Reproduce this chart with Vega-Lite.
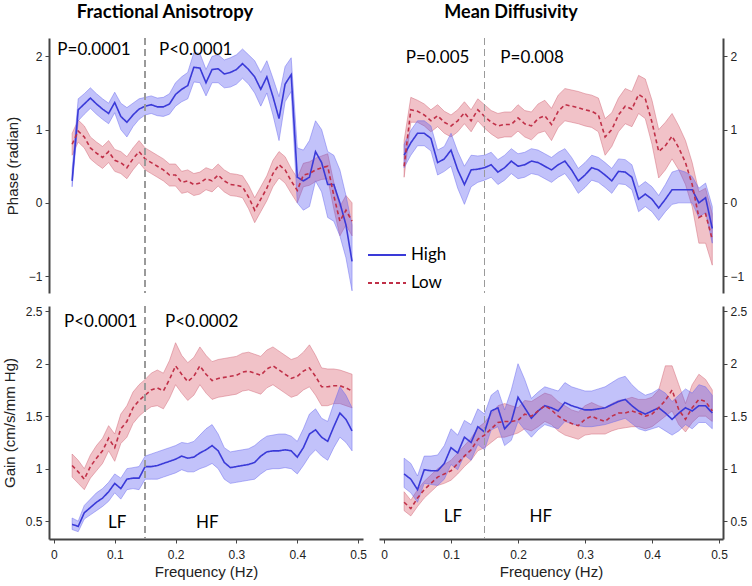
{
"$schema":"https://vega.github.io/schema/vega-lite/v6.json",
"background":"white",
"padding":{"left":2,"top":3,"right":5,"bottom":5},
"datasets":{
"faP":[
{"f":0.03,"g":"High","m":0.3,"lo":0.22,"hi":0.45},{"f":0.04,"g":"High","m":1.27,"lo":1.12,"hi":1.42},{"f":0.05,"g":"High","m":1.35,"lo":1.21,"hi":1.49},{"f":0.06,"g":"High","m":1.43,"lo":1.29,"hi":1.57},{"f":0.07,"g":"High","m":1.35,"lo":1.21,"hi":1.49},{"f":0.08,"g":"High","m":1.28,"lo":1.14,"hi":1.42},{"f":0.09,"g":"High","m":1.22,"lo":1.08,"hi":1.36},{"f":0.10,"g":"High","m":1.37,"lo":1.23,"hi":1.51},{"f":0.11,"g":"High","m":1.18,"lo":1.0,"hi":1.36},{"f":0.12,"g":"High","m":1.1,"lo":0.9,"hi":1.3},{"f":0.13,"g":"High","m":1.2,"lo":1.04,"hi":1.36},{"f":0.14,"g":"High","m":1.28,"lo":1.14,"hi":1.42},{"f":0.15,"g":"High","m":1.32,"lo":1.2,"hi":1.44},{"f":0.16,"g":"High","m":1.34,"lo":1.22,"hi":1.46},{"f":0.17,"g":"High","m":1.31,"lo":1.19,"hi":1.43},{"f":0.18,"g":"High","m":1.31,"lo":1.18,"hi":1.44},{"f":0.19,"g":"High","m":1.35,"lo":1.21,"hi":1.49},{"f":0.20,"g":"High","m":1.48,"lo":1.32,"hi":1.64},{"f":0.21,"g":"High","m":1.55,"lo":1.38,"hi":1.72},{"f":0.22,"g":"High","m":1.6,"lo":1.42,"hi":1.78},{"f":0.23,"g":"High","m":1.85,"lo":1.65,"hi":2.05},{"f":0.24,"g":"High","m":1.84,"lo":1.64,"hi":2.04},{"f":0.25,"g":"High","m":1.64,"lo":1.46,"hi":1.82},{"f":0.26,"g":"High","m":1.82,"lo":1.64,"hi":2.0},{"f":0.27,"g":"High","m":1.83,"lo":1.64,"hi":2.02},{"f":0.28,"g":"High","m":1.76,"lo":1.57,"hi":1.95},{"f":0.29,"g":"High","m":1.78,"lo":1.58,"hi":1.98},{"f":0.30,"g":"High","m":1.82,"lo":1.62,"hi":2.02},{"f":0.31,"g":"High","m":1.9,"lo":1.7,"hi":2.1},{"f":0.32,"g":"High","m":1.82,"lo":1.62,"hi":2.02},{"f":0.33,"g":"High","m":1.72,"lo":1.5,"hi":1.94},{"f":0.34,"g":"High","m":1.55,"lo":1.32,"hi":1.78},{"f":0.35,"g":"High","m":1.72,"lo":1.5,"hi":1.94},{"f":0.36,"g":"High","m":1.45,"lo":1.2,"hi":1.7},{"f":0.37,"g":"High","m":1.15,"lo":0.85,"hi":1.45},{"f":0.38,"g":"High","m":1.62,"lo":1.38,"hi":1.86},{"f":0.39,"g":"High","m":1.75,"lo":1.52,"hi":1.98},{"f":0.40,"g":"High","m":0.35,"lo":0.0,"hi":0.75},{"f":0.41,"g":"High","m":0.3,"lo":-0.1,"hi":0.72},{"f":0.42,"g":"High","m":0.35,"lo":-0.05,"hi":0.85},{"f":0.43,"g":"High","m":0.7,"lo":0.3,"hi":1.12},{"f":0.44,"g":"High","m":0.55,"lo":0.15,"hi":1.0},{"f":0.45,"g":"High","m":0.25,"lo":-0.2,"hi":0.7},{"f":0.46,"g":"High","m":0.25,"lo":-0.25,"hi":0.65},{"f":0.47,"g":"High","m":0.0,"lo":-0.45,"hi":0.45},{"f":0.48,"g":"High","m":-0.3,"lo":-0.75,"hi":0.1},{"f":0.49,"g":"High","m":-0.8,"lo":-1.2,"hi":-0.3},
{"f":0.03,"g":"Low","m":0.8,"lo":0.65,"hi":0.95},{"f":0.04,"g":"Low","m":0.98,"lo":0.83,"hi":1.13},{"f":0.05,"g":"Low","m":0.9,"lo":0.75,"hi":1.05},{"f":0.06,"g":"Low","m":0.75,"lo":0.6,"hi":0.9},{"f":0.07,"g":"Low","m":0.68,"lo":0.53,"hi":0.83},{"f":0.08,"g":"Low","m":0.62,"lo":0.47,"hi":0.77},{"f":0.09,"g":"Low","m":0.7,"lo":0.55,"hi":0.85},{"f":0.10,"g":"Low","m":0.58,"lo":0.43,"hi":0.73},{"f":0.11,"g":"Low","m":0.55,"lo":0.4,"hi":0.7},{"f":0.12,"g":"Low","m":0.48,"lo":0.33,"hi":0.63},{"f":0.13,"g":"Low","m":0.6,"lo":0.45,"hi":0.75},{"f":0.14,"g":"Low","m":0.7,"lo":0.55,"hi":0.85},{"f":0.15,"g":"Low","m":0.6,"lo":0.45,"hi":0.75},{"f":0.16,"g":"Low","m":0.55,"lo":0.4,"hi":0.7},{"f":0.17,"g":"Low","m":0.5,"lo":0.35,"hi":0.65},{"f":0.18,"g":"Low","m":0.45,"lo":0.3,"hi":0.6},{"f":0.19,"g":"Low","m":0.38,"lo":0.23,"hi":0.53},{"f":0.20,"g":"Low","m":0.38,"lo":0.23,"hi":0.53},{"f":0.21,"g":"Low","m":0.28,"lo":0.13,"hi":0.43},{"f":0.22,"g":"Low","m":0.3,"lo":0.15,"hi":0.45},{"f":0.23,"g":"Low","m":0.25,"lo":0.1,"hi":0.4},{"f":0.24,"g":"Low","m":0.27,"lo":0.12,"hi":0.42},{"f":0.25,"g":"Low","m":0.33,"lo":0.18,"hi":0.48},{"f":0.26,"g":"Low","m":0.3,"lo":0.15,"hi":0.45},{"f":0.27,"g":"Low","m":0.38,"lo":0.23,"hi":0.53},{"f":0.28,"g":"Low","m":0.3,"lo":0.15,"hi":0.45},{"f":0.29,"g":"Low","m":0.25,"lo":0.1,"hi":0.4},{"f":0.30,"g":"Low","m":0.24,"lo":0.09,"hi":0.39},{"f":0.31,"g":"Low","m":0.22,"lo":0.07,"hi":0.37},{"f":0.32,"g":"Low","m":0.08,"lo":-0.08,"hi":0.24},{"f":0.33,"g":"Low","m":-0.1,"lo":-0.27,"hi":0.07},{"f":0.34,"g":"Low","m":0.05,"lo":-0.12,"hi":0.22},{"f":0.35,"g":"Low","m":0.2,"lo":0.03,"hi":0.37},{"f":0.36,"g":"Low","m":0.4,"lo":0.22,"hi":0.58},{"f":0.37,"g":"Low","m":0.52,"lo":0.34,"hi":0.7},{"f":0.38,"g":"Low","m":0.45,"lo":0.27,"hi":0.63},{"f":0.39,"g":"Low","m":0.3,"lo":0.13,"hi":0.47},{"f":0.40,"g":"Low","m":0.17,"lo":0.0,"hi":0.34},{"f":0.41,"g":"Low","m":0.38,"lo":0.22,"hi":0.54},{"f":0.42,"g":"Low","m":0.4,"lo":0.24,"hi":0.56},{"f":0.43,"g":"Low","m":0.45,"lo":0.29,"hi":0.61},{"f":0.44,"g":"Low","m":0.48,"lo":0.32,"hi":0.64},{"f":0.45,"g":"Low","m":0.5,"lo":0.33,"hi":0.67},{"f":0.46,"g":"Low","m":0.1,"lo":-0.08,"hi":0.28},{"f":0.47,"g":"Low","m":-0.25,"lo":-0.45,"hi":-0.05},{"f":0.48,"g":"Low","m":-0.1,"lo":-0.3,"hi":0.1},{"f":0.49,"g":"Low","m":-0.25,"lo":-0.45,"hi":0.0}
],
"mdP":[
{"f":0.03,"g":"High","m":0.65,"lo":0.48,"hi":0.8},{"f":0.04,"g":"High","m":0.82,"lo":0.65,"hi":0.99},{"f":0.05,"g":"High","m":0.95,"lo":0.78,"hi":1.12},{"f":0.06,"g":"High","m":0.95,"lo":0.78,"hi":1.12},{"f":0.07,"g":"High","m":0.88,"lo":0.71,"hi":1.05},{"f":0.08,"g":"High","m":0.55,"lo":0.38,"hi":0.72},{"f":0.09,"g":"High","m":0.6,"lo":0.43,"hi":0.77},{"f":0.10,"g":"High","m":0.72,"lo":0.5,"hi":0.95},{"f":0.11,"g":"High","m":0.45,"lo":0.2,"hi":0.7},{"f":0.12,"g":"High","m":0.25,"lo":-0.02,"hi":0.5},{"f":0.13,"g":"High","m":0.45,"lo":0.22,"hi":0.65},{"f":0.14,"g":"High","m":0.46,"lo":0.28,"hi":0.64},{"f":0.15,"g":"High","m":0.48,"lo":0.31,"hi":0.65},{"f":0.16,"g":"High","m":0.52,"lo":0.35,"hi":0.69},{"f":0.17,"g":"High","m":0.42,"lo":0.25,"hi":0.59},{"f":0.18,"g":"High","m":0.48,"lo":0.31,"hi":0.65},{"f":0.19,"g":"High","m":0.57,"lo":0.4,"hi":0.74},{"f":0.20,"g":"High","m":0.5,"lo":0.33,"hi":0.67},{"f":0.21,"g":"High","m":0.52,"lo":0.35,"hi":0.69},{"f":0.22,"g":"High","m":0.57,"lo":0.4,"hi":0.74},{"f":0.23,"g":"High","m":0.55,"lo":0.38,"hi":0.72},{"f":0.24,"g":"High","m":0.5,"lo":0.33,"hi":0.67},{"f":0.25,"g":"High","m":0.45,"lo":0.28,"hi":0.62},{"f":0.26,"g":"High","m":0.52,"lo":0.35,"hi":0.69},{"f":0.27,"g":"High","m":0.57,"lo":0.4,"hi":0.74},{"f":0.28,"g":"High","m":0.45,"lo":0.28,"hi":0.62},{"f":0.29,"g":"High","m":0.3,"lo":0.13,"hi":0.47},{"f":0.30,"g":"High","m":0.38,"lo":0.21,"hi":0.55},{"f":0.31,"g":"High","m":0.48,"lo":0.31,"hi":0.65},{"f":0.32,"g":"High","m":0.45,"lo":0.28,"hi":0.62},{"f":0.33,"g":"High","m":0.38,"lo":0.21,"hi":0.55},{"f":0.34,"g":"High","m":0.3,"lo":0.13,"hi":0.47},{"f":0.35,"g":"High","m":0.43,"lo":0.26,"hi":0.6},{"f":0.36,"g":"High","m":0.42,"lo":0.25,"hi":0.59},{"f":0.37,"g":"High","m":0.35,"lo":0.18,"hi":0.52},{"f":0.38,"g":"High","m":0.05,"lo":-0.12,"hi":0.22},{"f":0.39,"g":"High","m":0.12,"lo":-0.05,"hi":0.29},{"f":0.40,"g":"High","m":0.05,"lo":-0.12,"hi":0.22},{"f":0.41,"g":"High","m":-0.07,"lo":-0.24,"hi":0.1},{"f":0.42,"g":"High","m":0.05,"lo":-0.12,"hi":0.25},{"f":0.43,"g":"High","m":0.18,"lo":-0.02,"hi":0.42},{"f":0.44,"g":"High","m":0.18,"lo":0.0,"hi":0.45},{"f":0.45,"g":"High","m":0.18,"lo":0.0,"hi":0.42},{"f":0.46,"g":"High","m":0.18,"lo":0.0,"hi":0.36},{"f":0.47,"g":"High","m":0.0,"lo":-0.2,"hi":0.2},{"f":0.48,"g":"High","m":0.07,"lo":-0.13,"hi":0.27},{"f":0.49,"g":"High","m":-0.35,"lo":-0.55,"hi":-0.05},
{"f":0.03,"g":"Low","m":0.5,"lo":0.35,"hi":0.85},{"f":0.04,"g":"Low","m":1.27,"lo":1.1,"hi":1.44},{"f":0.05,"g":"Low","m":1.25,"lo":1.1,"hi":1.4},{"f":0.06,"g":"Low","m":1.2,"lo":1.05,"hi":1.35},{"f":0.07,"g":"Low","m":1.12,"lo":0.97,"hi":1.27},{"f":0.08,"g":"Low","m":1.19,"lo":1.04,"hi":1.34},{"f":0.09,"g":"Low","m":1.1,"lo":0.95,"hi":1.25},{"f":0.10,"g":"Low","m":1.05,"lo":0.9,"hi":1.2},{"f":0.11,"g":"Low","m":1.12,"lo":0.97,"hi":1.27},{"f":0.12,"g":"Low","m":1.23,"lo":1.08,"hi":1.38},{"f":0.13,"g":"Low","m":1.12,"lo":0.97,"hi":1.27},{"f":0.14,"g":"Low","m":1.27,"lo":1.12,"hi":1.42},{"f":0.15,"g":"Low","m":1.18,"lo":1.02,"hi":1.34},{"f":0.16,"g":"Low","m":1.1,"lo":0.94,"hi":1.26},{"f":0.17,"g":"Low","m":1.05,"lo":0.88,"hi":1.22},{"f":0.18,"g":"Low","m":1.07,"lo":0.9,"hi":1.24},{"f":0.19,"g":"Low","m":1.07,"lo":0.9,"hi":1.24},{"f":0.20,"g":"Low","m":1.16,"lo":0.98,"hi":1.34},{"f":0.21,"g":"Low","m":1.08,"lo":0.9,"hi":1.26},{"f":0.22,"g":"Low","m":1.05,"lo":0.86,"hi":1.24},{"f":0.23,"g":"Low","m":1.15,"lo":0.95,"hi":1.35},{"f":0.24,"g":"Low","m":1.19,"lo":0.98,"hi":1.4},{"f":0.25,"g":"Low","m":1.07,"lo":0.85,"hi":1.29},{"f":0.26,"g":"Low","m":1.25,"lo":1.03,"hi":1.47},{"f":0.27,"g":"Low","m":1.34,"lo":1.12,"hi":1.56},{"f":0.28,"g":"Low","m":1.32,"lo":1.1,"hi":1.54},{"f":0.29,"g":"Low","m":1.3,"lo":1.08,"hi":1.52},{"f":0.30,"g":"Low","m":1.27,"lo":1.05,"hi":1.49},{"f":0.31,"g":"Low","m":1.25,"lo":1.03,"hi":1.47},{"f":0.32,"g":"Low","m":1.2,"lo":0.97,"hi":1.43},{"f":0.33,"g":"Low","m":0.9,"lo":0.65,"hi":1.15},{"f":0.34,"g":"Low","m":1.0,"lo":0.77,"hi":1.23},{"f":0.35,"g":"Low","m":1.2,"lo":0.97,"hi":1.43},{"f":0.36,"g":"Low","m":1.32,"lo":1.08,"hi":1.56},{"f":0.37,"g":"Low","m":1.28,"lo":1.04,"hi":1.52},{"f":0.38,"g":"Low","m":1.48,"lo":1.22,"hi":1.74},{"f":0.39,"g":"Low","m":1.42,"lo":1.15,"hi":1.69},{"f":0.40,"g":"Low","m":1.1,"lo":0.8,"hi":1.4},{"f":0.41,"g":"Low","m":0.7,"lo":0.34,"hi":1.0},{"f":0.42,"g":"Low","m":0.78,"lo":0.45,"hi":1.1},{"f":0.43,"g":"Low","m":0.91,"lo":0.6,"hi":1.22},{"f":0.44,"g":"Low","m":0.75,"lo":0.45,"hi":1.05},{"f":0.45,"g":"Low","m":0.55,"lo":0.25,"hi":0.85},{"f":0.46,"g":"Low","m":0.25,"lo":-0.05,"hi":0.55},{"f":0.47,"g":"Low","m":-0.2,"lo":-0.55,"hi":0.15},{"f":0.48,"g":"Low","m":-0.15,"lo":-0.55,"hi":0.2},{"f":0.49,"g":"Low","m":-0.5,"lo":-0.85,"hi":-0.15}
],
"faG":[
{"f":0.03,"g":"High","m":0.47,"lo":0.42,"hi":0.53},{"f":0.04,"g":"High","m":0.45,"lo":0.4,"hi":0.5},{"f":0.05,"g":"High","m":0.58,"lo":0.52,"hi":0.65},{"f":0.06,"g":"High","m":0.63,"lo":0.56,"hi":0.71},{"f":0.07,"g":"High","m":0.68,"lo":0.6,"hi":0.77},{"f":0.08,"g":"High","m":0.72,"lo":0.64,"hi":0.81},{"f":0.09,"g":"High","m":0.78,"lo":0.69,"hi":0.87},{"f":0.10,"g":"High","m":0.86,"lo":0.77,"hi":0.95},{"f":0.11,"g":"High","m":0.81,"lo":0.71,"hi":0.91},{"f":0.12,"g":"High","m":0.9,"lo":0.8,"hi":1.0},{"f":0.13,"g":"High","m":0.91,"lo":0.81,"hi":1.01},{"f":0.14,"g":"High","m":0.91,"lo":0.8,"hi":1.02},{"f":0.15,"g":"High","m":1.02,"lo":0.9,"hi":1.12},{"f":0.16,"g":"High","m":1.02,"lo":0.9,"hi":1.14},{"f":0.17,"g":"High","m":1.03,"lo":0.9,"hi":1.16},{"f":0.18,"g":"High","m":1.05,"lo":0.92,"hi":1.18},{"f":0.19,"g":"High","m":1.07,"lo":0.94,"hi":1.2},{"f":0.20,"g":"High","m":1.09,"lo":0.96,"hi":1.22},{"f":0.21,"g":"High","m":1.12,"lo":0.99,"hi":1.25},{"f":0.22,"g":"High","m":1.1,"lo":0.97,"hi":1.24},{"f":0.23,"g":"High","m":1.11,"lo":0.97,"hi":1.26},{"f":0.24,"g":"High","m":1.15,"lo":1.0,"hi":1.32},{"f":0.25,"g":"High","m":1.18,"lo":1.02,"hi":1.38},{"f":0.26,"g":"High","m":1.22,"lo":1.05,"hi":1.42},{"f":0.27,"g":"High","m":1.17,"lo":1.0,"hi":1.33},{"f":0.28,"g":"High","m":1.06,"lo":0.9,"hi":1.2},{"f":0.29,"g":"High","m":1.01,"lo":0.86,"hi":1.16},{"f":0.30,"g":"High","m":1.02,"lo":0.87,"hi":1.17},{"f":0.31,"g":"High","m":1.03,"lo":0.88,"hi":1.18},{"f":0.32,"g":"High","m":1.04,"lo":0.89,"hi":1.19},{"f":0.33,"g":"High","m":1.06,"lo":0.9,"hi":1.22},{"f":0.34,"g":"High","m":1.12,"lo":0.95,"hi":1.27},{"f":0.35,"g":"High","m":1.16,"lo":0.99,"hi":1.31},{"f":0.36,"g":"High","m":1.17,"lo":1.0,"hi":1.32},{"f":0.37,"g":"High","m":1.17,"lo":1.0,"hi":1.33},{"f":0.38,"g":"High","m":1.18,"lo":1.01,"hi":1.33},{"f":0.39,"g":"High","m":1.17,"lo":1.0,"hi":1.31},{"f":0.40,"g":"High","m":1.11,"lo":0.95,"hi":1.26},{"f":0.41,"g":"High","m":1.2,"lo":1.03,"hi":1.38},{"f":0.42,"g":"High","m":1.33,"lo":1.12,"hi":1.52},{"f":0.43,"g":"High","m":1.37,"lo":1.18,"hi":1.57},{"f":0.44,"g":"High","m":1.3,"lo":1.12,"hi":1.48},{"f":0.45,"g":"High","m":1.26,"lo":1.08,"hi":1.45},{"f":0.46,"g":"High","m":1.4,"lo":1.2,"hi":1.62},{"f":0.47,"g":"High","m":1.53,"lo":1.3,"hi":1.78},{"f":0.48,"g":"High","m":1.47,"lo":1.25,"hi":1.7},{"f":0.49,"g":"High","m":1.36,"lo":1.17,"hi":1.58},
{"f":0.03,"g":"Low","m":1.03,"lo":0.92,"hi":1.14},{"f":0.04,"g":"Low","m":0.97,"lo":0.86,"hi":1.08},{"f":0.05,"g":"Low","m":0.9,"lo":0.8,"hi":1.0},{"f":0.06,"g":"Low","m":1.02,"lo":0.91,"hi":1.13},{"f":0.07,"g":"Low","m":1.1,"lo":0.98,"hi":1.22},{"f":0.08,"g":"Low","m":1.17,"lo":1.05,"hi":1.29},{"f":0.09,"g":"Low","m":1.29,"lo":1.17,"hi":1.41},{"f":0.10,"g":"Low","m":1.2,"lo":1.07,"hi":1.33},{"f":0.11,"g":"Low","m":1.38,"lo":1.24,"hi":1.52},{"f":0.12,"g":"Low","m":1.45,"lo":1.3,"hi":1.6},{"f":0.13,"g":"Low","m":1.58,"lo":1.43,"hi":1.73},{"f":0.14,"g":"Low","m":1.65,"lo":1.5,"hi":1.8},{"f":0.15,"g":"Low","m":1.7,"lo":1.55,"hi":1.85},{"f":0.16,"g":"Low","m":1.75,"lo":1.59,"hi":1.91},{"f":0.17,"g":"Low","m":1.77,"lo":1.6,"hi":1.94},{"f":0.18,"g":"Low","m":1.74,"lo":1.57,"hi":1.91},{"f":0.19,"g":"Low","m":1.85,"lo":1.67,"hi":2.03},{"f":0.20,"g":"Low","m":1.98,"lo":1.8,"hi":2.2},{"f":0.21,"g":"Low","m":1.9,"lo":1.72,"hi":2.08},{"f":0.22,"g":"Low","m":1.83,"lo":1.65,"hi":2.01},{"f":0.23,"g":"Low","m":1.88,"lo":1.7,"hi":2.06},{"f":0.24,"g":"Low","m":1.98,"lo":1.8,"hi":2.16},{"f":0.25,"g":"Low","m":1.9,"lo":1.72,"hi":2.08},{"f":0.26,"g":"Low","m":1.84,"lo":1.66,"hi":2.02},{"f":0.27,"g":"Low","m":1.86,"lo":1.68,"hi":2.04},{"f":0.28,"g":"Low","m":1.87,"lo":1.69,"hi":2.05},{"f":0.29,"g":"Low","m":1.88,"lo":1.7,"hi":2.06},{"f":0.30,"g":"Low","m":1.89,"lo":1.71,"hi":2.07},{"f":0.31,"g":"Low","m":1.92,"lo":1.74,"hi":2.1},{"f":0.32,"g":"Low","m":1.93,"lo":1.75,"hi":2.11},{"f":0.33,"g":"Low","m":1.91,"lo":1.73,"hi":2.09},{"f":0.34,"g":"Low","m":1.89,"lo":1.71,"hi":2.07},{"f":0.35,"g":"Low","m":1.95,"lo":1.77,"hi":2.13},{"f":0.36,"g":"Low","m":1.98,"lo":1.8,"hi":2.16},{"f":0.37,"g":"Low","m":1.94,"lo":1.76,"hi":2.12},{"f":0.38,"g":"Low","m":1.9,"lo":1.72,"hi":2.08},{"f":0.39,"g":"Low","m":1.86,"lo":1.68,"hi":2.04},{"f":0.40,"g":"Low","m":1.88,"lo":1.7,"hi":2.06},{"f":0.41,"g":"Low","m":1.93,"lo":1.75,"hi":2.11},{"f":0.42,"g":"Low","m":1.96,"lo":1.78,"hi":2.18},{"f":0.43,"g":"Low","m":1.88,"lo":1.7,"hi":2.08},{"f":0.44,"g":"Low","m":1.78,"lo":1.6,"hi":1.96},{"f":0.45,"g":"Low","m":1.78,"lo":1.6,"hi":1.95},{"f":0.46,"g":"Low","m":1.79,"lo":1.62,"hi":1.95},{"f":0.47,"g":"Low","m":1.79,"lo":1.62,"hi":1.94},{"f":0.48,"g":"Low","m":1.77,"lo":1.6,"hi":1.92},{"f":0.49,"g":"Low","m":1.74,"lo":1.58,"hi":1.9}
],
"mdG":[
{"f":0.03,"g":"High","m":0.95,"lo":0.82,"hi":1.1},{"f":0.04,"g":"High","m":0.9,"lo":0.77,"hi":1.05},{"f":0.05,"g":"High","m":0.8,"lo":0.68,"hi":0.93},{"f":0.06,"g":"High","m":0.99,"lo":0.86,"hi":1.12},{"f":0.07,"g":"High","m":0.98,"lo":0.85,"hi":1.12},{"f":0.08,"g":"High","m":0.98,"lo":0.84,"hi":1.13},{"f":0.09,"g":"High","m":1.05,"lo":0.9,"hi":1.22},{"f":0.10,"g":"High","m":1.2,"lo":1.04,"hi":1.38},{"f":0.11,"g":"High","m":1.15,"lo":0.99,"hi":1.32},{"f":0.12,"g":"High","m":1.3,"lo":1.13,"hi":1.46},{"f":0.13,"g":"High","m":1.25,"lo":1.08,"hi":1.42},{"f":0.14,"g":"High","m":1.4,"lo":1.23,"hi":1.57},{"f":0.15,"g":"High","m":1.35,"lo":1.18,"hi":1.52},{"f":0.16,"g":"High","m":1.55,"lo":1.37,"hi":1.7},{"f":0.17,"g":"High","m":1.58,"lo":1.4,"hi":1.75},{"f":0.18,"g":"High","m":1.38,"lo":1.22,"hi":1.56},{"f":0.19,"g":"High","m":1.45,"lo":1.27,"hi":1.75},{"f":0.20,"g":"High","m":1.68,"lo":1.45,"hi":2.0},{"f":0.21,"g":"High","m":1.58,"lo":1.37,"hi":1.85},{"f":0.22,"g":"High","m":1.48,"lo":1.3,"hi":1.67},{"f":0.23,"g":"High","m":1.55,"lo":1.37,"hi":1.73},{"f":0.24,"g":"High","m":1.6,"lo":1.42,"hi":1.78},{"f":0.25,"g":"High","m":1.58,"lo":1.4,"hi":1.76},{"f":0.26,"g":"High","m":1.55,"lo":1.38,"hi":1.74},{"f":0.27,"g":"High","m":1.63,"lo":1.45,"hi":1.82},{"f":0.28,"g":"High","m":1.6,"lo":1.43,"hi":1.78},{"f":0.29,"g":"High","m":1.58,"lo":1.41,"hi":1.76},{"f":0.30,"g":"High","m":1.56,"lo":1.4,"hi":1.74},{"f":0.31,"g":"High","m":1.56,"lo":1.4,"hi":1.74},{"f":0.32,"g":"High","m":1.57,"lo":1.41,"hi":1.76},{"f":0.33,"g":"High","m":1.58,"lo":1.42,"hi":1.78},{"f":0.34,"g":"High","m":1.61,"lo":1.44,"hi":1.82},{"f":0.35,"g":"High","m":1.64,"lo":1.46,"hi":1.86},{"f":0.36,"g":"High","m":1.66,"lo":1.48,"hi":1.88},{"f":0.37,"g":"High","m":1.6,"lo":1.43,"hi":1.8},{"f":0.38,"g":"High","m":1.55,"lo":1.38,"hi":1.74},{"f":0.39,"g":"High","m":1.52,"lo":1.36,"hi":1.7},{"f":0.40,"g":"High","m":1.55,"lo":1.38,"hi":1.72},{"f":0.41,"g":"High","m":1.58,"lo":1.4,"hi":1.76},{"f":0.42,"g":"High","m":1.53,"lo":1.36,"hi":1.72},{"f":0.43,"g":"High","m":1.47,"lo":1.32,"hi":1.64},{"f":0.44,"g":"High","m":1.53,"lo":1.36,"hi":1.7},{"f":0.45,"g":"High","m":1.58,"lo":1.42,"hi":1.76},{"f":0.46,"g":"High","m":1.55,"lo":1.38,"hi":1.72},{"f":0.47,"g":"High","m":1.6,"lo":1.44,"hi":1.8},{"f":0.48,"g":"High","m":1.6,"lo":1.44,"hi":1.78},{"f":0.49,"g":"High","m":1.53,"lo":1.38,"hi":1.7},
{"f":0.03,"g":"Low","m":0.68,"lo":0.6,"hi":0.78},{"f":0.04,"g":"Low","m":0.62,"lo":0.55,"hi":0.7},{"f":0.05,"g":"Low","m":0.72,"lo":0.64,"hi":0.8},{"f":0.06,"g":"Low","m":0.8,"lo":0.72,"hi":0.88},{"f":0.07,"g":"Low","m":0.86,"lo":0.78,"hi":0.94},{"f":0.08,"g":"Low","m":0.92,"lo":0.84,"hi":1.0},{"f":0.09,"g":"Low","m":0.95,"lo":0.86,"hi":1.04},{"f":0.10,"g":"Low","m":0.98,"lo":0.89,"hi":1.08},{"f":0.11,"g":"Low","m":1.05,"lo":0.95,"hi":1.15},{"f":0.12,"g":"Low","m":1.12,"lo":1.02,"hi":1.22},{"f":0.13,"g":"Low","m":1.18,"lo":1.08,"hi":1.29},{"f":0.14,"g":"Low","m":1.28,"lo":1.17,"hi":1.39},{"f":0.15,"g":"Low","m":1.32,"lo":1.2,"hi":1.44},{"f":0.16,"g":"Low","m":1.38,"lo":1.25,"hi":1.52},{"f":0.17,"g":"Low","m":1.44,"lo":1.3,"hi":1.6},{"f":0.18,"g":"Low","m":1.45,"lo":1.3,"hi":1.62},{"f":0.19,"g":"Low","m":1.45,"lo":1.32,"hi":1.6},{"f":0.20,"g":"Low","m":1.46,"lo":1.34,"hi":1.58},{"f":0.21,"g":"Low","m":1.52,"lo":1.38,"hi":1.65},{"f":0.22,"g":"Low","m":1.5,"lo":1.36,"hi":1.64},{"f":0.23,"g":"Low","m":1.55,"lo":1.4,"hi":1.68},{"f":0.24,"g":"Low","m":1.6,"lo":1.45,"hi":1.72},{"f":0.25,"g":"Low","m":1.56,"lo":1.42,"hi":1.7},{"f":0.26,"g":"Low","m":1.5,"lo":1.36,"hi":1.64},{"f":0.27,"g":"Low","m":1.46,"lo":1.32,"hi":1.6},{"f":0.28,"g":"Low","m":1.43,"lo":1.3,"hi":1.56},{"f":0.29,"g":"Low","m":1.41,"lo":1.28,"hi":1.54},{"f":0.30,"g":"Low","m":1.47,"lo":1.32,"hi":1.6},{"f":0.31,"g":"Low","m":1.5,"lo":1.33,"hi":1.63},{"f":0.32,"g":"Low","m":1.47,"lo":1.33,"hi":1.6},{"f":0.33,"g":"Low","m":1.45,"lo":1.33,"hi":1.58},{"f":0.34,"g":"Low","m":1.5,"lo":1.36,"hi":1.62},{"f":0.35,"g":"Low","m":1.53,"lo":1.38,"hi":1.65},{"f":0.36,"g":"Low","m":1.53,"lo":1.39,"hi":1.66},{"f":0.37,"g":"Low","m":1.55,"lo":1.4,"hi":1.68},{"f":0.38,"g":"Low","m":1.53,"lo":1.4,"hi":1.66},{"f":0.39,"g":"Low","m":1.5,"lo":1.38,"hi":1.66},{"f":0.40,"g":"Low","m":1.52,"lo":1.4,"hi":1.68},{"f":0.41,"g":"Low","m":1.58,"lo":1.45,"hi":1.75},{"f":0.42,"g":"Low","m":1.65,"lo":1.5,"hi":1.98},{"f":0.43,"g":"Low","m":1.75,"lo":1.55,"hi":1.98},{"f":0.44,"g":"Low","m":1.56,"lo":1.42,"hi":1.8},{"f":0.45,"g":"Low","m":1.47,"lo":1.35,"hi":1.62},{"f":0.46,"g":"Low","m":1.58,"lo":1.44,"hi":1.8},{"f":0.47,"g":"Low","m":1.66,"lo":1.5,"hi":1.9},{"f":0.48,"g":"Low","m":1.64,"lo":1.5,"hi":1.85},{"f":0.49,"g":"Low","m":1.55,"lo":1.45,"hi":1.75}
]
},
"columns":2,
"spacing":{"row":13,"column":16},
"align":"each",
"bounds":"flush",
"concat":[
{
 "width":314,"height":255,
 "title":{"text":"Fractional Anisotropy","font":"Lato","fontSize":18.5,"fontWeight":"bold","color":"#000","dx":-41,"offset":16},
 "data":{"name":"faP"},
 "layer":[
  {"transform":[{"filter":"datum.g === 'Low'"}],
   "mark":{"type":"area","fill":"#d85060","fillOpacity":0.35,"stroke":"#d06878","strokeOpacity":0.6,"strokeWidth":0.8,"clip":true},
   "encoding":{
    "x":{"field":"f","type":"quantitative","scale":{"domain":[-0.008,0.508],"nice":false,"zero":false},"axis":null},
    "y":{"field":"lo","type":"quantitative","scale":{"domain":[-1.23,2.25],"nice":false,"zero":false},"axis":{"title":"Phase (radian)","values":[-1,0,1,2],"format":"~g"}},
    "y2":{"field":"hi"}}},
  {"transform":[{"filter":"datum.g === 'High'"}],
   "mark":{"type":"area","fill":"#5050f0","fillOpacity":0.35,"stroke":"#6a6aee","strokeOpacity":0.6,"strokeWidth":0.8,"clip":true},
   "encoding":{"x":{"field":"f","type":"quantitative"},"y":{"field":"lo","type":"quantitative"},"y2":{"field":"hi"}}},
  {"mark":{"type":"line","strokeWidth":1.6,"clip":true},
   "encoding":{
    "x":{"field":"f","type":"quantitative"},
    "y":{"field":"m","type":"quantitative"},
    "color":{"field":"g","type":"nominal","scale":{"domain":["High","Low"],"range":["#3a3ad8","#c03048"]},"legend":{"title":null,"orient":"none","legendX":318,"legendY":197}},
    "strokeDash":{"field":"g","type":"nominal","scale":{"domain":["High","Low"],"range":[[1,0],[4,3]]},"legend":{"title":null,"orient":"none","legendX":318,"legendY":197}}}},
  {"mark":{"type":"rule","color":"#9a9a9a","strokeDash":[7,4],"strokeWidth":1},"encoding":{"x":{"datum":0.15}}},
  {"data":{"values":[{"t":"P=0.0001","f":0.066,"v":2.09},{"t":"P<0.0001","f":0.233,"v":2.09}]},
   "mark":{"type":"text","font":"Lato","fontSize":17,"color":"#000"},
   "encoding":{"x":{"field":"f","type":"quantitative"},"y":{"field":"v","type":"quantitative"},"text":{"field":"t"}}}
 ]
},
{
 "width":344,"height":255,
 "title":{"text":"Mean Diffusivity","font":"Lato","fontSize":18,"fontWeight":"bold","color":"#000","dx":-40,"offset":16},
 "data":{"name":"mdP"},
 "layer":[
  {"transform":[{"filter":"datum.g === 'Low'"}],
   "mark":{"type":"area","fill":"#d85060","fillOpacity":0.35,"stroke":"#d06878","strokeOpacity":0.6,"strokeWidth":0.8,"clip":true},
   "encoding":{
    "x":{"field":"f","type":"quantitative","scale":{"domain":[-0.0075,0.506],"nice":false,"zero":false},"axis":null},
    "y":{"field":"lo","type":"quantitative","scale":{"domain":[-1.23,2.25],"nice":false,"zero":false},"axis":{"title":null,"orient":"right","values":[-1,0,1,2],"format":"~g"}},
    "y2":{"field":"hi"}}},
  {"transform":[{"filter":"datum.g === 'High'"}],
   "mark":{"type":"area","fill":"#5050f0","fillOpacity":0.35,"stroke":"#6a6aee","strokeOpacity":0.6,"strokeWidth":0.8,"clip":true},
   "encoding":{"x":{"field":"f","type":"quantitative"},"y":{"field":"lo","type":"quantitative"},"y2":{"field":"hi"}}},
  {"mark":{"type":"line","strokeWidth":1.6,"clip":true},
   "encoding":{
    "x":{"field":"f","type":"quantitative"},
    "y":{"field":"m","type":"quantitative"},
    "color":{"field":"g","type":"nominal","scale":{"domain":["High","Low"],"range":["#3a3ad8","#c03048"]}},
    "strokeDash":{"field":"g","type":"nominal","scale":{"domain":["High","Low"],"range":[[1,0],[4,3]]}}}},
  {"mark":{"type":"rule","color":"#9a9a9a","strokeDash":[7,4],"strokeWidth":1},"encoding":{"x":{"datum":0.15}}},
  {"data":{"values":[{"t":"P=0.005","f":0.08,"v":1.98},{"t":"P=0.008","f":0.221,"v":1.98}]},
   "mark":{"type":"text","font":"Lato","fontSize":17,"color":"#000"},
   "encoding":{"x":{"field":"f","type":"quantitative"},"y":{"field":"v","type":"quantitative"},"text":{"field":"t"}}}
 ]
},
{
 "width":314,"height":233,
 "data":{"name":"faG"},
 "layer":[
  {"transform":[{"filter":"datum.g === 'Low'"}],
   "mark":{"type":"area","fill":"#d85060","fillOpacity":0.35,"stroke":"#d06878","strokeOpacity":0.6,"strokeWidth":0.8,"clip":true},
   "encoding":{
    "x":{"field":"f","type":"quantitative","scale":{"domain":[-0.008,0.508],"nice":false,"zero":false},"axis":{"title":"Frequency (Hz)","values":[0,0.1,0.2,0.3,0.4,0.5],"format":"~g","labelPadding":6,"titlePadding":4}},
    "y":{"field":"lo","type":"quantitative","scale":{"domain":[0.33,2.55],"nice":false,"zero":false},"axis":{"title":"Gain (cm/s/mm Hg)","values":[0.5,1,1.5,2,2.5],"format":"~g"}},
    "y2":{"field":"hi"}}},
  {"transform":[{"filter":"datum.g === 'High'"}],
   "mark":{"type":"area","fill":"#5050f0","fillOpacity":0.35,"stroke":"#6a6aee","strokeOpacity":0.6,"strokeWidth":0.8,"clip":true},
   "encoding":{"x":{"field":"f","type":"quantitative"},"y":{"field":"lo","type":"quantitative"},"y2":{"field":"hi"}}},
  {"mark":{"type":"line","strokeWidth":1.6,"clip":true},
   "encoding":{
    "x":{"field":"f","type":"quantitative"},
    "y":{"field":"m","type":"quantitative"},
    "color":{"field":"g","type":"nominal","scale":{"domain":["High","Low"],"range":["#3a3ad8","#c03048"]}},
    "strokeDash":{"field":"g","type":"nominal","scale":{"domain":["High","Low"],"range":[[1,0],[4,3]]}}}},
  {"mark":{"type":"rule","color":"#9a9a9a","strokeDash":[7,4],"strokeWidth":1},"encoding":{"x":{"datum":0.15}}},
  {"data":{"values":[{"t":"P<0.0001","f":0.077,"v":2.4},{"t":"P<0.0002","f":0.243,"v":2.4},{"t":"LF","f":0.104,"v":0.48},{"t":"HF","f":0.252,"v":0.48}]},
   "mark":{"type":"text","font":"Lato","fontSize":17,"color":"#000"},
   "encoding":{"x":{"field":"f","type":"quantitative"},"y":{"field":"v","type":"quantitative"},"text":{"field":"t"}}}
 ]
},
{
 "width":344,"height":233,
 "data":{"name":"mdG"},
 "layer":[
  {"transform":[{"filter":"datum.g === 'Low'"}],
   "mark":{"type":"area","fill":"#d85060","fillOpacity":0.35,"stroke":"#d06878","strokeOpacity":0.6,"strokeWidth":0.8,"clip":true},
   "encoding":{
    "x":{"field":"f","type":"quantitative","scale":{"domain":[-0.0075,0.506],"nice":false,"zero":false},"axis":{"title":"Frequency (Hz)","values":[0,0.1,0.2,0.3,0.4,0.5],"format":"~g","labelPadding":6,"titlePadding":4}},
    "y":{"field":"lo","type":"quantitative","scale":{"domain":[0.33,2.55],"nice":false,"zero":false},"axis":{"title":null,"orient":"right","values":[0.5,1,1.5,2,2.5],"format":"~g"}},
    "y2":{"field":"hi"}}},
  {"transform":[{"filter":"datum.g === 'High'"}],
   "mark":{"type":"area","fill":"#5050f0","fillOpacity":0.35,"stroke":"#6a6aee","strokeOpacity":0.6,"strokeWidth":0.8,"clip":true},
   "encoding":{"x":{"field":"f","type":"quantitative"},"y":{"field":"lo","type":"quantitative"},"y2":{"field":"hi"}}},
  {"mark":{"type":"line","strokeWidth":1.6,"clip":true},
   "encoding":{
    "x":{"field":"f","type":"quantitative"},
    "y":{"field":"m","type":"quantitative"},
    "color":{"field":"g","type":"nominal","scale":{"domain":["High","Low"],"range":["#3a3ad8","#c03048"]}},
    "strokeDash":{"field":"g","type":"nominal","scale":{"domain":["High","Low"],"range":[[1,0],[4,3]]}}}},
  {"mark":{"type":"rule","color":"#9a9a9a","strokeDash":[7,4],"strokeWidth":1},"encoding":{"x":{"datum":0.15}}},
  {"data":{"values":[{"t":"LF","f":0.103,"v":0.54},{"t":"HF","f":0.234,"v":0.54}]},
   "mark":{"type":"text","font":"Lato","fontSize":17,"color":"#000"},
   "encoding":{"x":{"field":"f","type":"quantitative"},"y":{"field":"v","type":"quantitative"},"text":{"field":"t"}}}
 ]
}
],
"config":{
 "view":{"stroke":null},
 "axis":{"grid":false,"domainColor":"#444","domainWidth":2,"tickColor":"#444","tickSize":4,"tickWidth":1,"labelFont":"Liberation Sans","labelFontSize":12,"labelColor":"#222","labelPadding":3,"titleFont":"Liberation Sans","titleFontSize":15,"titleFontWeight":"normal","titleColor":"#222","titlePadding":8},
 "legend":{"orient":"none","legendX":318,"legendY":197,"symbolType":"stroke","symbolSize":1444,"symbolStrokeWidth":2,"symbolOpacity":1,"labelFont":"Lato","labelFontSize":17,"labelColor":"#000","labelOffset":4,"rowPadding":-12,"padding":0}
}
}
